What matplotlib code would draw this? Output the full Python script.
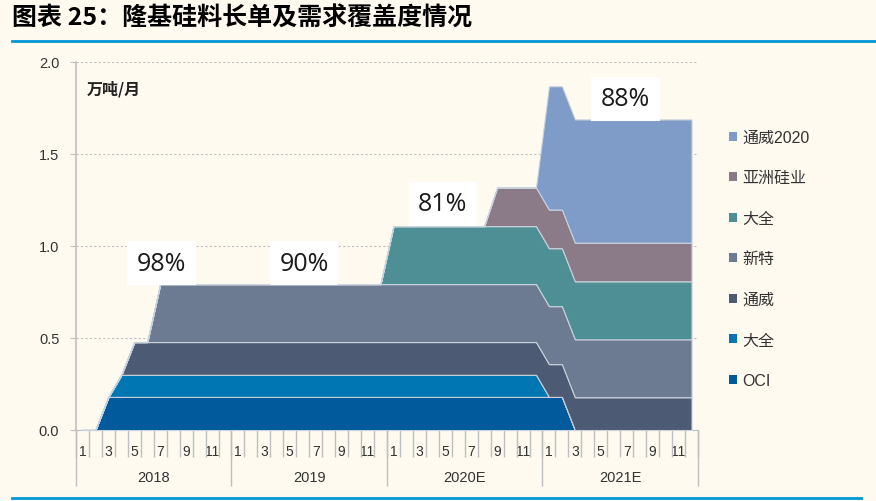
import matplotlib
matplotlib.use('Agg')
import matplotlib.pyplot as plt
from matplotlib.patches import Patch
import numpy as np

plt.rcParams['font.family'] = ['Liberation Sans', 'Noto Sans CJK SC', 'DejaVu Sans']

# 48 months, 2018-01 .. 2021-12 (万吨/月)
years = ['2018', '2019', '2020E', '2021E']
month_labels = ['1', '', '3', '', '5', '', '7', '', '9', '', '11', '']

oci = [0, 0, .18, .18, .18, .18, .18, .18, .18, .18, .18, .18,
       .18, .18, .18, .18, .18, .18, .18, .18, .18, .18, .18, .18,
       .18, .18, .18, .18, .18, .18, .18, .18, .18, .18, .18, .18,
       .18, .18, 0, 0, 0, 0, 0, 0, 0, 0, 0, 0]
daquan1 = [0, 0, 0, .12, .12, .12, .12, .12, .12, .12, .12, .12,
           .12, .12, .12, .12, .12, .12, .12, .12, .12, .12, .12, .12,
           .12, .12, .12, .12, .12, .12, .12, .12, .12, .12, .12, .12,
           0, 0, 0, 0, 0, 0, 0, 0, 0, 0, 0, 0]
tongwei = [0, 0, 0, 0, .178, .178, .178, .178, .178, .178, .178, .178,
           .178, .178, .178, .178, .178, .178, .178, .178, .178, .178, .178, .178,
           .178, .178, .178, .178, .178, .178, .178, .178, .178, .178, .178, .178,
           .178, .178, .178, .178, .178, .178, .178, .178, .178, .178, .178, .178]
xinte = [0, 0, 0, 0, 0, 0, .315, .315, .315, .315, .315, .315,
         .315, .315, .315, .315, .315, .315, .315, .315, .315, .315, .315, .315,
         .315, .315, .315, .315, .315, .315, .315, .315, .315, .315, .315, .315,
         .315, .315, .315, .315, .315, .315, .315, .315, .315, .315, .315, .315]
daquan2 = [0, 0, 0, 0, 0, 0, 0, 0, 0, 0, 0, 0,
           0, 0, 0, 0, 0, 0, 0, 0, 0, 0, 0, 0,
           .315, .315, .315, .315, .315, .315, .315, .315, .315, .315, .315, .315,
           .315, .315, .315, .315, .315, .315, .315, .315, .315, .315, .315, .315]
asia = [0, 0, 0, 0, 0, 0, 0, 0, 0, 0, 0, 0,
        0, 0, 0, 0, 0, 0, 0, 0, 0, 0, 0, 0,
        0, 0, 0, 0, 0, 0, 0, 0, .21, .21, .21, .21,
        .21, .21, .21, .21, .21, .21, .21, .21, .21, .21, .21, .21]
tongwei2020 = [0, 0, 0, 0, 0, 0, 0, 0, 0, 0, 0, 0,
               0, 0, 0, 0, 0, 0, 0, 0, 0, 0, 0, 0,
               0, 0, 0, 0, 0, 0, 0, 0, 0, 0, 0, 0,
               .67, .67, .67, .67, .67, .67, .67, .67, .67, .67, .67, .67]

series_names = ['OCI', '大全', '通威', '新特', '大全', '亚洲硅业', '通威2020']
series_colors = ['#005A9C', '#0077B3', '#4D5A73', '#6C7A92', '#4E8F96', '#8B7B89', '#7F9CC8']

coverage = ['98%', '90%', '81%', '88%']
coverage_x = [6.1, 17.1, 27.8, 41.9]
coverage_y = [0.905, 0.905, 1.23, 1.80]

bg = '#FEFAF0'
grey = '#BFBFBF'

fig = plt.figure(figsize=(8.76, 5.02), dpi=100, facecolor=bg)
ax = fig.add_axes([76 / 876, 1 - 431 / 502, 622 / 876, 368 / 502], facecolor=bg)

x = np.arange(48)
ax.stackplot(x, oci, daquan1, tongwei, xinte, daquan2, asia, tongwei2020,
             colors=series_colors, edgecolor='#C8D2DC', linewidth=0.8, zorder=3)

ax.set_xlim(-0.5, 47.5)
ax.set_ylim(0, 2.0)
ax.set_yticks([0, 0.5, 1.0, 1.5, 2.0])
ax.set_yticklabels(['0.0', '0.5', '1.0', '1.5', '2.0'])
ax.yaxis.grid(True, color=grey, linestyle=(0, (2, 2)), linewidth=0.8)
ax.set_axisbelow(True)
ax.tick_params(axis='y', length=4, color=grey, labelsize=10.5, labelcolor='#333333', pad=8)

for s in ['top', 'right']:
    ax.spines[s].set_visible(False)
ax.spines['left'].set_color(grey)
ax.spines['bottom'].set_color(grey)
ax.spines['left'].set_linewidth(1.2)

# month labels at category centres, category boundaries as minor ticks
ax.set_xticks(x)
ax.set_xticklabels(month_labels * 4)
ax.set_xticks(np.arange(-0.5, 48, 1), minor=True)
ax.tick_params(axis='x', which='major', length=0, pad=10, labelsize=10, labelcolor='#333333')
ax.tick_params(axis='x', which='minor', length=19.5, color=grey, width=1)

# year level
sec = ax.secondary_xaxis('bottom')
sec.set_xticks([-0.5, 11.5, 23.5, 35.5, 47.5])
sec.set_xticklabels([])
sec.set_xticks([5.5, 17.5, 29.5, 41.5], minor=True)
sec.set_xticklabels(years, minor=True)
sec.tick_params(which='major', length=40, color=grey, width=1)
sec.tick_params(which='minor', length=0, pad=29, labelsize=10.5, labelcolor='#333333')
sec.spines['bottom'].set_visible(False)

for lab, cx, cy in zip(coverage, coverage_x, coverage_y):
    ax.text(cx, cy, lab, ha='center', va='center', fontsize=18, family=['Open Sans', 'DejaVu Sans'],
            color='#1a1a1a', zorder=5,
            bbox=dict(boxstyle='square,pad=0.38', facecolor='white', edgecolor='none'))

ax.text(0.018, 0.93, '万吨/月', transform=ax.transAxes, fontsize=11.5, fontweight='bold',
        color='#222222', va='center', family=['Noto Sans CJK SC', 'DejaVu Sans'])

handles = [Patch(facecolor=c, edgecolor='none') for c in series_colors]
leg = ax.legend(handles[::-1], series_names[::-1], loc='upper left', bbox_to_anchor=(1.027, 0.855),
                frameon=False, fontsize=11.5, handlelength=0.5, handleheight=0.5,
                handletextpad=0.35, labelspacing=1.6, labelcolor='#333333')

fig.text(12 / 876, 1 - 19 / 502, '图表 25：隆基硅料长单及需求覆盖度情况', fontsize=18,
         fontweight='bold', va='center', ha='left', color='black',
         family=['Noto Sans CJK SC', 'DejaVu Sans'])
fig.add_artist(plt.Line2D([12 / 876, 1.0], [1 - 42 / 502] * 2, color='#0096D8', linewidth=2))
fig.add_artist(plt.Line2D([12 / 876, 861 / 876], [1 - 499 / 502] * 2, color='#0096D8', linewidth=2))

fig.savefig('out.png', dpi=100, facecolor=bg)
